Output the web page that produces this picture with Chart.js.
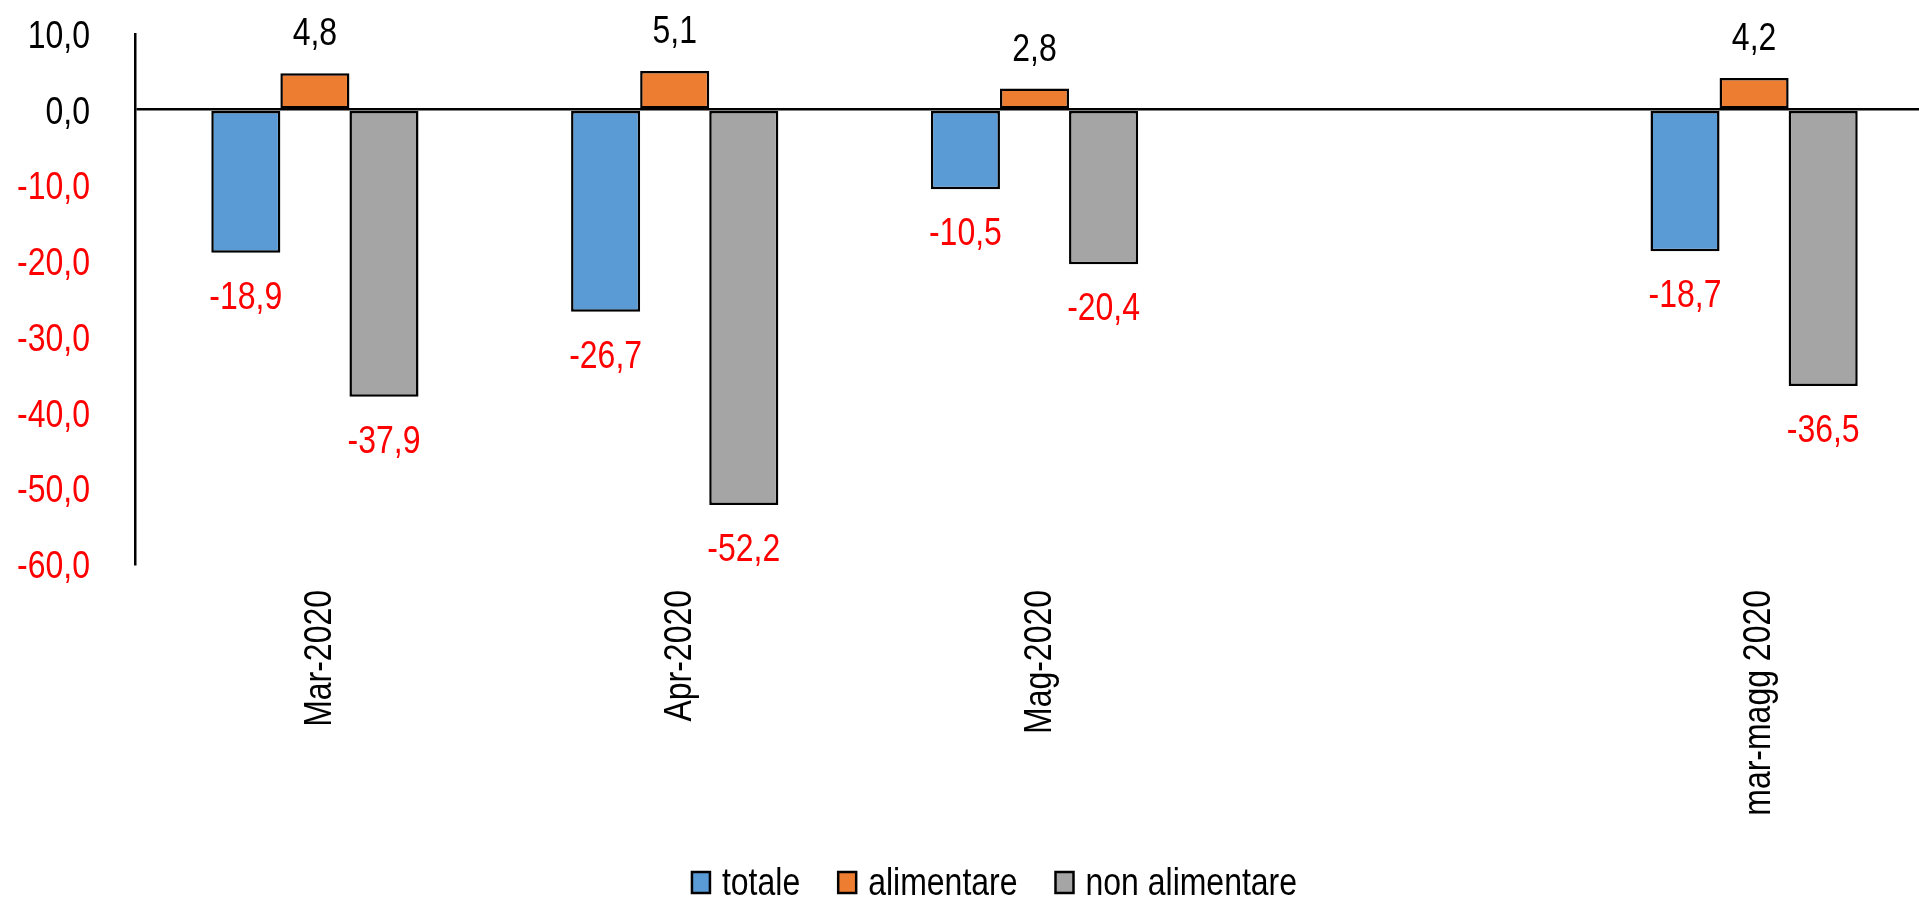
<!DOCTYPE html>
<html>
<head>
<meta charset="utf-8">
<script src="https://cdn.jsdelivr.net/npm/chart.js@4/dist/chart.umd.min.js"></script>
<style>
    html, body { margin: 0; padding: 0; background: #fff; overflow: hidden; }
    #wrap { position: relative; width: 1934px; height: 901px; }
</style>
</head>
<body>
<div id="wrap">
    <canvas id="chart" width="1934" height="901"></canvas>
</div>
<script>
// Dati
const categories = ["Mar-2020", "Apr-2020", "Mag-2020", "", "mar-magg 2020"];
const totale = [-18.9, -26.7, -10.5, null, -18.7];
const alimentare = [4.8, 5.1, 2.8, null, 4.2];
const nonAlimentare = [-37.9, -52.2, -20.4, null, -36.5];
const seriesNames = ["totale", "alimentare", "non alimentare"];
const seriesColors = ["#5B9BD5", "#ED7D31", "#A5A5A5"];
const yMin = -60, yMax = 10, yStep = 10;

const FONT = '39px "Liberation Sans", Arial, sans-serif';
const NARROW = 0.82; // testo stretto come Arial Narrow
const RED = "#FF0000";

function fmt(v) {
    return v.toFixed(1).replace(".", ",");
}

// Scrive un testo stretto (eventualmente ruotato di 90°)
function narrowText(ctx, text, x, y, align, color, rotated) {
    ctx.save();
    ctx.font = FONT;
    ctx.fillStyle = color;
    ctx.textAlign = align;
    ctx.textBaseline = "alphabetic";
    ctx.translate(x, y);
    if (rotated) ctx.rotate(-Math.PI / 2);
    ctx.scale(NARROW, 1);
    ctx.fillText(text, 0, 0);
    ctx.restore();
}

function textWidth(ctx, text) {
    ctx.save();
    ctx.font = FONT;
    const w = ctx.measureText(text).width * NARROW;
    ctx.restore();
    return w;
}

const textPlugin = {
    id: "textPlugin",
    afterDraw(chart) {
        const ctx = chart.ctx;
        const xs = chart.scales.x;
        const ys = chart.scales.y;

        // etichette asse Y
        ys.ticks.forEach(t => {
            const y = ys.getPixelForValue(t.value);
            narrowText(ctx, fmt(t.value), 90, y + 14, "right", t.value < 0 ? RED : "#000", false);
        });

        // etichette asse X (verticali)
        categories.forEach((c, i) => {
            if (!c) return;
            const x = xs.getPixelForTick(i);
            narrowText(ctx, c, x + 16, 590, "right", "#000", true);
        });

        // valori sulle barre
        chart.data.datasets.forEach((ds, i) => {
            chart.getDatasetMeta(i).data.forEach((bar, j) => {
                const v = ds.data[j];
                if (v === null) return;
                const y = v < 0 ? bar.y + 56 : bar.y - 28;
                narrowText(ctx, fmt(v), bar.x, y, "center", v < 0 ? RED : "#000", false);
            });
        });

        // legenda
        const boxW = 18, boxH = 21, gapText = 12, gapItem = 38;
        let total = 0;
        seriesNames.forEach((n, i) => {
            total += boxW + gapText + textWidth(ctx, n);
            if (i < seriesNames.length - 1) total += gapItem;
        });
        let x = 994.5 - total / 2;
        seriesNames.forEach((n, i) => {
            ctx.save();
            ctx.fillStyle = seriesColors[i];
            ctx.strokeStyle = "#000";
            ctx.lineWidth = 2.5;
            ctx.fillRect(x, 872, boxW, boxH);
            ctx.strokeRect(x, 872, boxW, boxH);
            ctx.restore();
            x += boxW + gapText;
            narrowText(ctx, n, x, 895, "left", "#000", false);
            x += textWidth(ctx, n) + gapItem;
        });
    }
};

const datasets = [totale, alimentare, nonAlimentare].map((d, i) => ({
    label: seriesNames[i],
    data: d,
    backgroundColor: seriesColors[i],
    borderColor: "#000",
    borderWidth: 2.5,
    borderSkipped: false,
    barPercentage: 1,
    categoryPercentage: 0.576
}));

new Chart(document.getElementById("chart"), {
    type: "bar",
    data: { labels: categories, datasets: datasets },
    options: {
        responsive: false,
        animation: false,
        layout: { padding: { top: 34, right: 0, left: 0, bottom: 0 } },
        plugins: {
            legend: { display: false },
            tooltip: { enabled: false }
        },
        scales: {
            x: {
                grid: { display: false },
                border: { display: false },
                ticks: { display: false },
                afterFit: function(scale) { scale.height = 337; }
            },
            y: {
                min: yMin,
                max: yMax,
                afterFit: function(scale) { scale.width = 135; },
                border: { display: true, color: "#000", width: 2.5 },
                grid: {
                    drawTicks: false,
                    lineWidth: 2.5,
                    color: c => c.tick && c.tick.value === 0 ? "#000" : "rgba(0,0,0,0)"
                },
                ticks: { display: false, stepSize: yStep }
            }
        }
    },
    plugins: [textPlugin]
});
</script>
</body>
</html>
